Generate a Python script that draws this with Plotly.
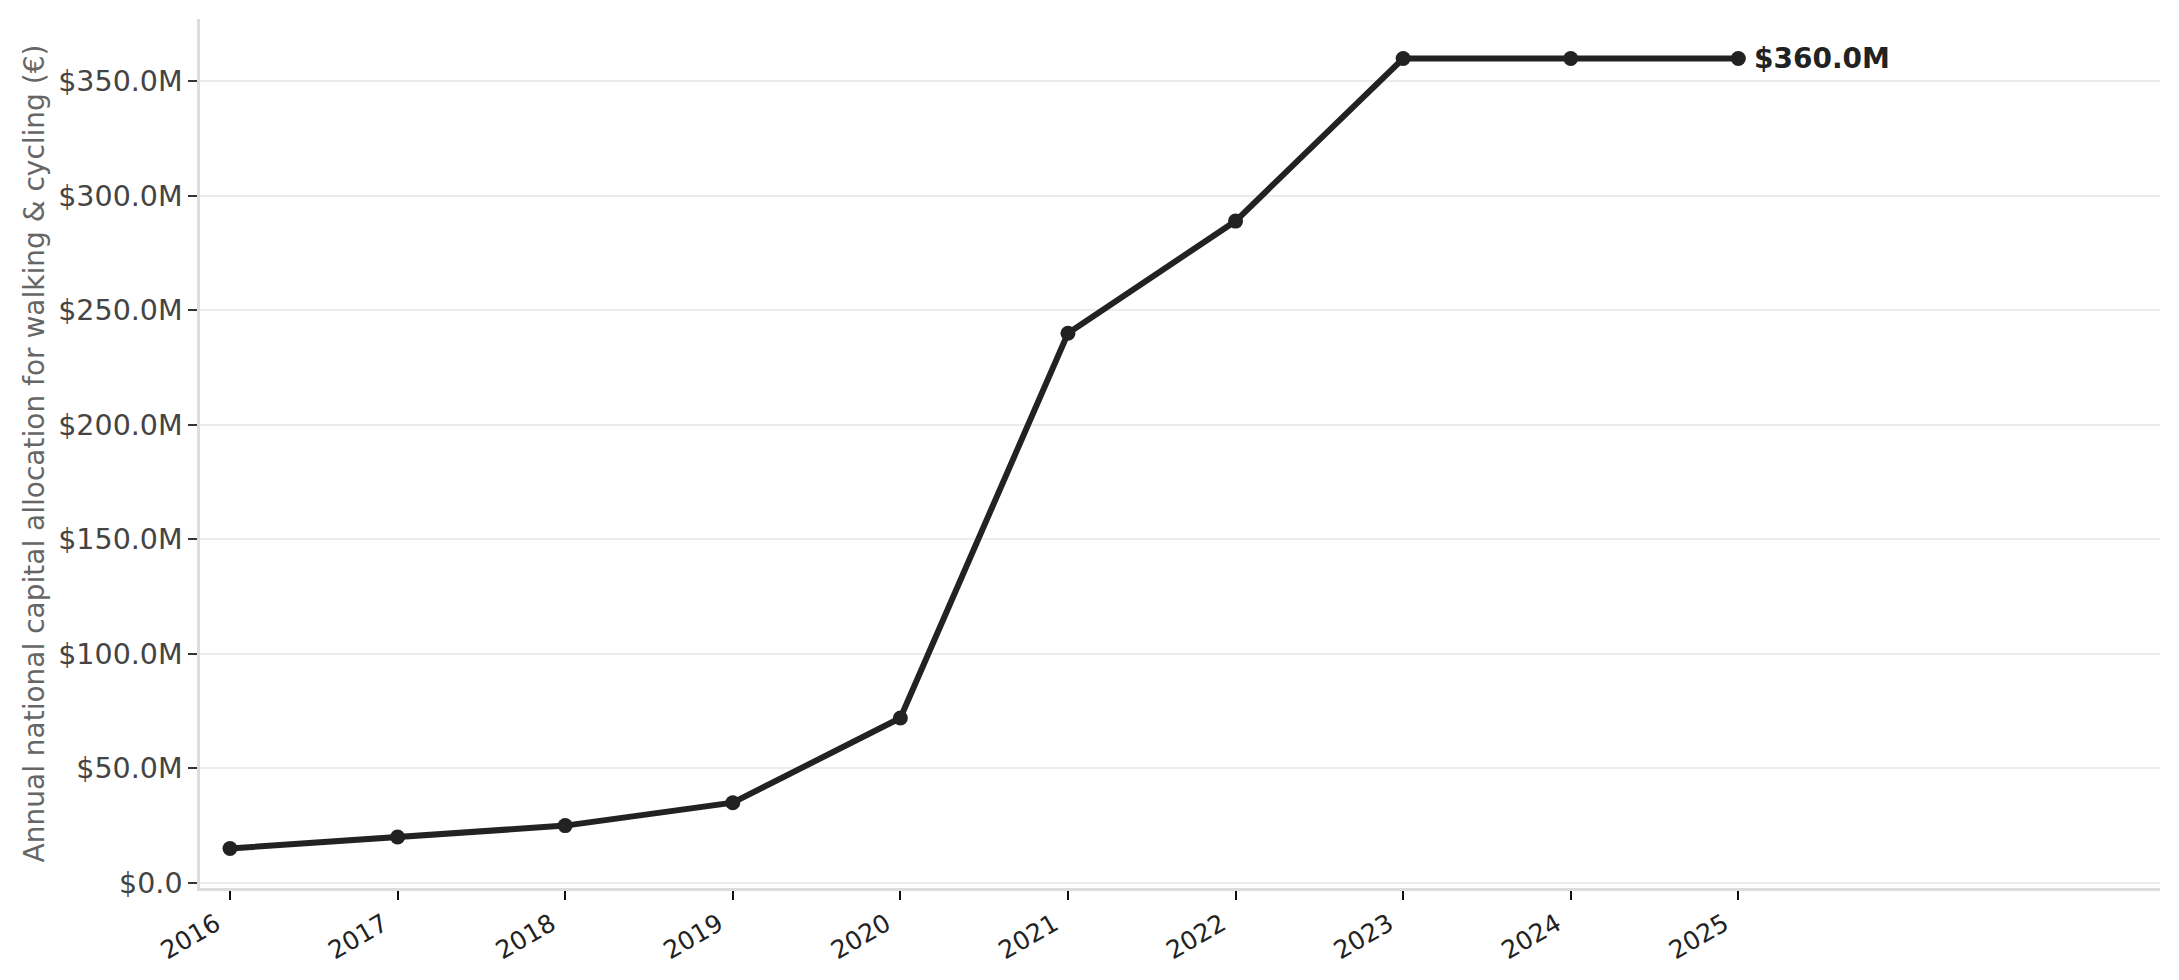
import plotly.graph_objects as go

# Annual national capital allocation for walking & cycling, in millions
years = [2016, 2017, 2018, 2019, 2020, 2021, 2022, 2023, 2024, 2025]
allocation_m = [15, 20, 25, 35, 72, 240, 289, 360, 360, 360]

y_ticks = [0, 50, 100, 150, 200, 250, 300, 350]
y_tick_labels = ["$0.0", "$50.0M", "$100.0M", "$150.0M", "$200.0M",
                 "$250.0M", "$300.0M", "$350.0M"]

FONT = "DejaVu Sans"
INK = "#222222"

fig = go.Figure()

fig.add_trace(go.Scatter(
    x=years, y=allocation_m,
    mode="lines+markers",
    line=dict(color=INK, width=6),
    marker=dict(color=INK, size=15),
    hovertemplate="%{x}: $%{y:.1f}M<extra></extra>",
    showlegend=False,
))

# label on the last point
fig.add_annotation(
    x=years[-1], y=allocation_m[-1],
    text=f"<b>${allocation_m[-1]:.1f}M</b>",
    showarrow=False,
    xanchor="left", yanchor="middle",
    xshift=14,
    font=dict(family=FONT, size=28, color=INK),
)

# page body adds ~8px, so margins are shifted to compensate
fig.update_layout(
    width=2179, height=980,
    margin=dict(l=192, r=27, t=11, b=100),
    paper_bgcolor="white",
    plot_bgcolor="white",
    font=dict(family=FONT),
    xaxis=dict(
        range=[2015.821, 2027.516],
        tickvals=years,
        ticktext=[str(y) for y in years],
        tickangle=-30,
        ticklabelshift=-14,
        tickfont=dict(family=FONT, size=25, color=INK),
        ticks="outside", ticklen=9, tickwidth=2, tickcolor="#111111",
        showgrid=False, zeroline=False,
        showline=True, linecolor="#dddddd", linewidth=2.5,
    ),
    yaxis=dict(
        range=[-2.25, 377.25],
        tickvals=y_ticks,
        ticktext=y_tick_labels,
        tickfont=dict(family=FONT, size=28.5, color="#444444"),
        ticks="outside", ticklen=9, tickwidth=2, tickcolor="#333333",
        showgrid=True, gridcolor="#ebebeb", gridwidth=2,
        zeroline=False,
        showline=True, linecolor="#dddddd", linewidth=2.5,
        title=dict(
            text="Annual national capital allocation for walking & cycling (€)",
            font=dict(family=FONT, size=28, color="#666666"),
            standoff=6,
        ),
    ),
)

fig.write_html("out.html")
